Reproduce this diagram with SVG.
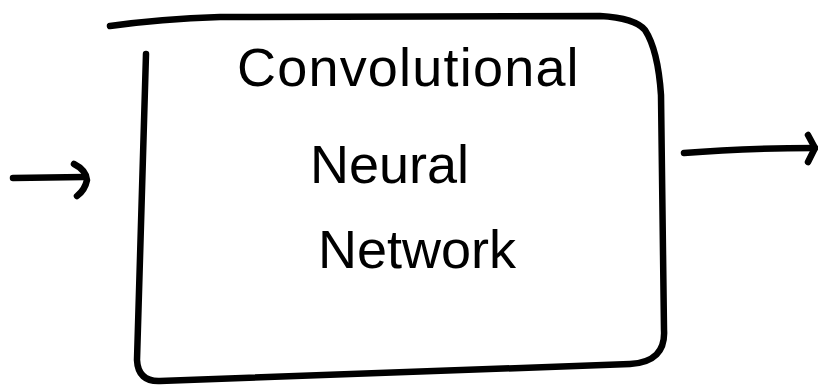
<svg xmlns="http://www.w3.org/2000/svg" width="818" height="385" viewBox="0 0 818 385">
<style>
.s{fill:none;stroke:#000;stroke-width:6.5;stroke-linecap:round;stroke-linejoin:round}
.t{font-family:"Liberation Sans",Arial,sans-serif;font-size:54px;fill:#000}
</style>
<rect width="818" height="385" fill="#fff"/>
<g id="cnn">
<path class="s" d="M110,26 Q160,19 220,17 L600,16 Q635,18 645,30 Q658,50 661,95 L664,330 Q666,362 630,364 L160,381 Q138,382 137,360 L146,54"/>
<text class="t" x="237" y="86" letter-spacing="1.2">Convolutional</text>
<text class="t" x="310" y="183">Neural</text>
<text class="t" x="318" y="268">Network</text>
</g>
<g id="connectors">
<path class="s" d="M13,178 L84,177"/>
<path class="s" d="M74,164 Q86,170 87,180 Q85,190 77,196"/>
<path class="s" d="M684,153 Q740,148 815,148"/>
<path class="s" d="M808,135 L815,148 L808,162"/>
</g>
</svg>
